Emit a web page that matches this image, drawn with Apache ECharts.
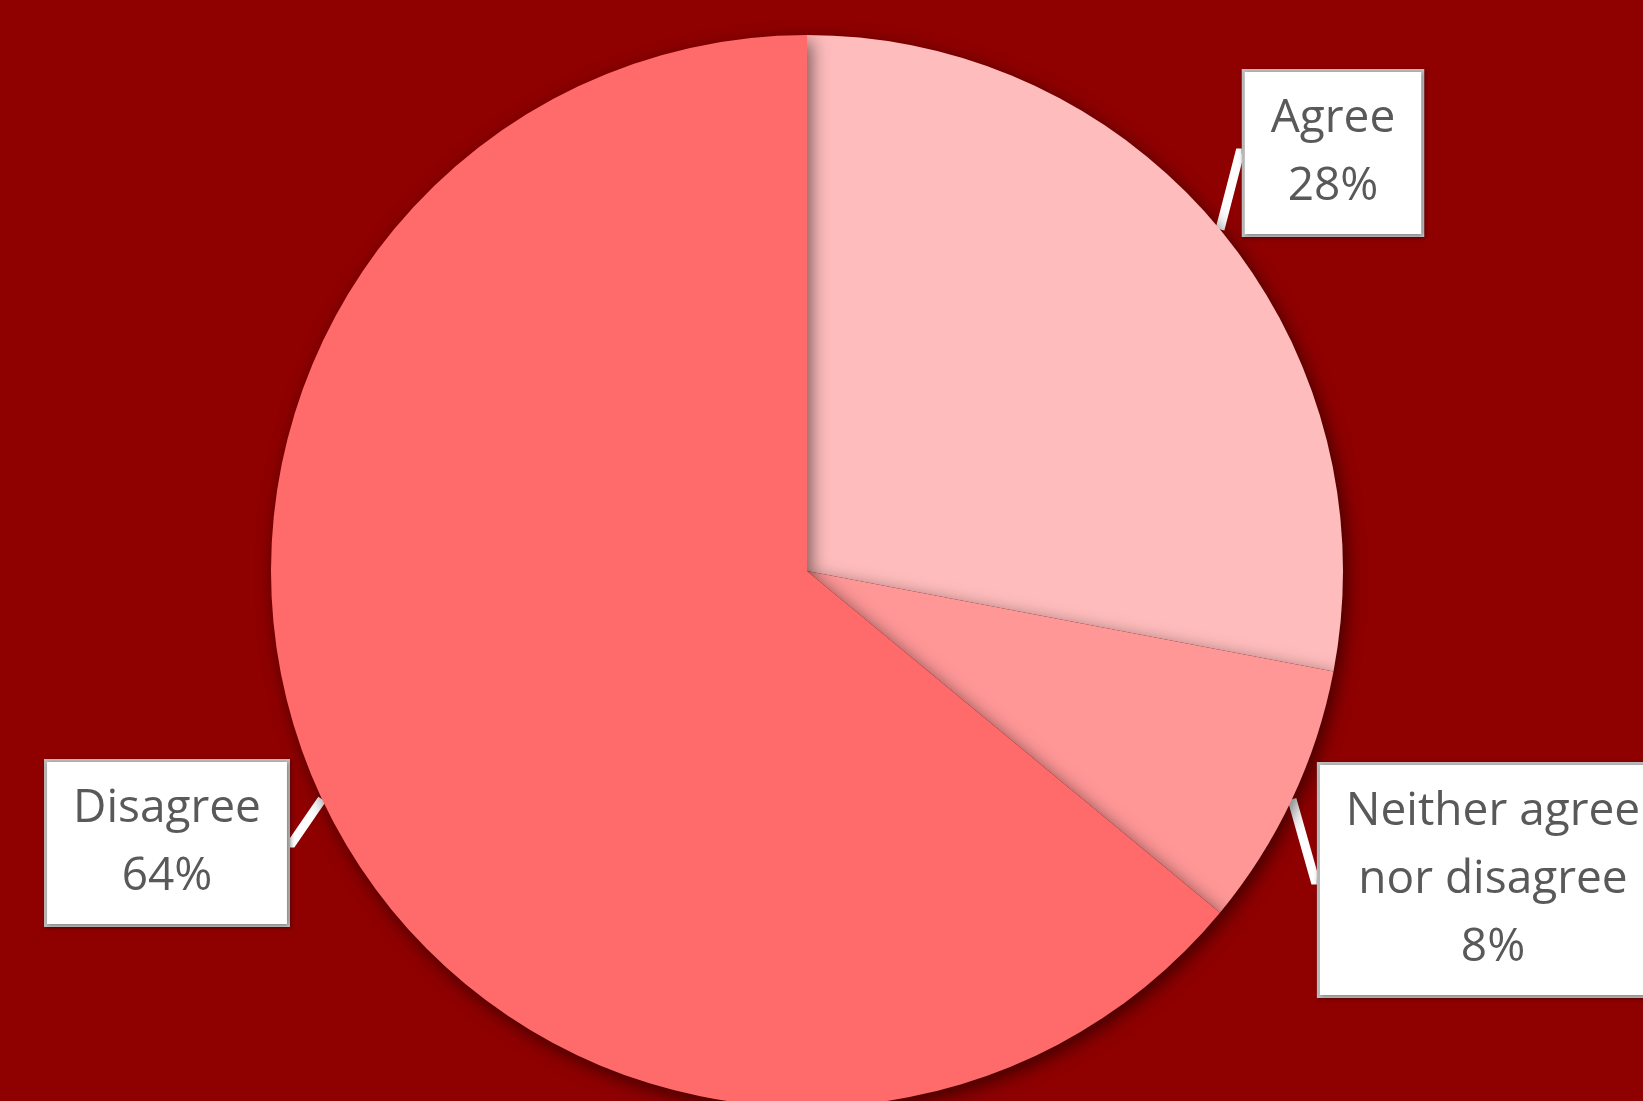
<!DOCTYPE html>
<html>
<head>
<meta charset="utf-8">
<script src="https://cdn.jsdelivr.net/npm/echarts@6/dist/echarts.min.js"></script>
<style>
html,body{margin:0;padding:0;background:#8f0000;}
#chart{width:1643px;height:1101px;}
</style>
</head>
<body>
<div id="chart"></div>
<script>
// Data
const categories = ["Agree", "Neither agree\nnor disagree", "Disagree"];
const values = [28, 8, 64];
const percentLabels = ["28%", "8%", "64%"];

const sliceColors = ["#ffbcbc", "#ff9797", "#ff6b6b"];
const labelCenters = [[1333, 153], [1493, 880], [167, 843]];

const chart = echarts.init(document.getElementById('chart'), null, {renderer: 'canvas'});
const seriesData = categories.map((c, i) => ({
  name: c,
  value: values[i],
  itemStyle: {color: sliceColors[i]}
}));

chart.setOption({
  backgroundColor: '#8f0000',
  animation: false,
  series: [{
    type: 'pie',
    center: [807, 571],
    radius: 536,
    startAngle: 90,
    clockwise: true,
    avoidLabelOverlap: false,
    data: seriesData,
    itemStyle: {
      borderWidth: 0,
      shadowColor: 'rgba(0,0,0,0.55)',
      shadowBlur: 18,
      shadowOffsetX: 4,
      shadowOffsetY: 6
    },
    label: {
      show: true,
      position: 'outside',
      overflow: 'none',
      formatter: (p) => p.name + '\n' + percentLabels[p.dataIndex],
      fontFamily: 'Open Sans',
      fontSize: 46,
      lineHeight: 68,
      color: '#595959',
      align: 'center',
      backgroundColor: '#ffffff',
      borderColor: '#bdbdbd',
      borderWidth: 3,
      padding: [14, 26, 12, 26],
      shadowColor: 'rgba(0,0,0,0.35)',
      shadowBlur: 4,
      shadowOffsetX: 1,
      shadowOffsetY: 1
    },
    labelLine: {
      show: true,
      length: 2,
      length2: 2,
      lineStyle: {color: '#ffffff', width: 9}
    },
    labelLayout: function (params) {
      const c = labelCenters[params.dataIndex];
      return {x: c[0], y: c[1], align: 'center', verticalAlign: 'middle'};
    }
  }]
});
</script>
</body>
</html>
